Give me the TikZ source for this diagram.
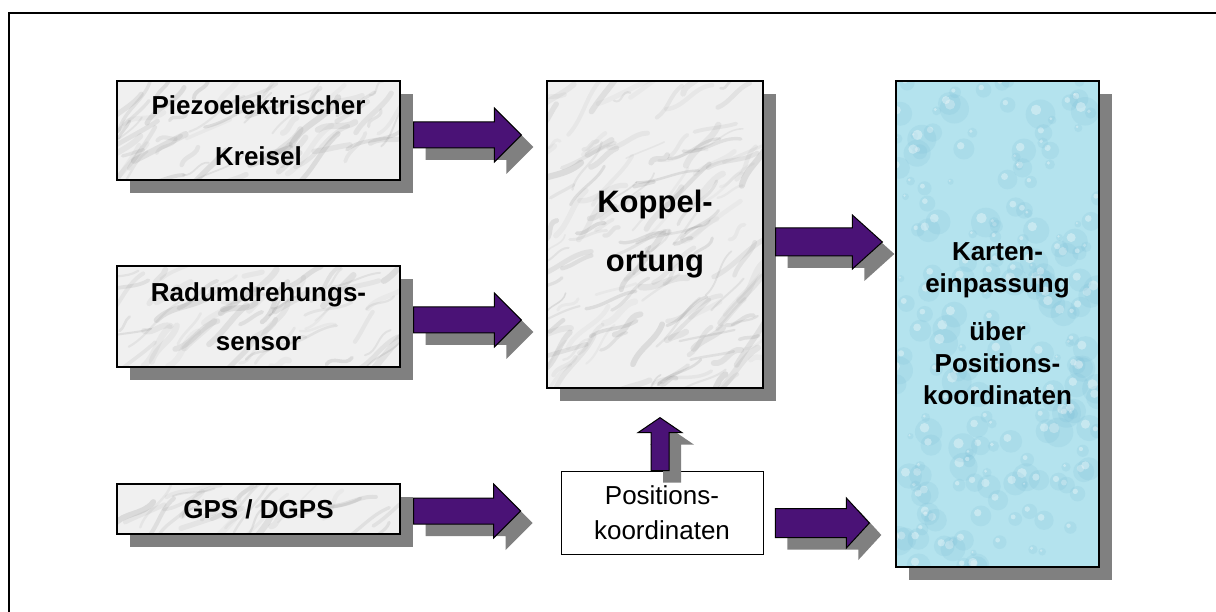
\documentclass[tikz,border=0pt]{standalone}
\usepackage{fontspec}
\setmainfont{Liberation Sans}
\usetikzlibrary{calc,shadows}
\definecolor{arrowpurple}{RGB}{74,18,118}
\definecolor{shadowgray}{RGB}{128,128,128}
\definecolor{marblebase}{RGB}{240,240,240}
\definecolor{veincolor}{RGB}{120,120,120}
\definecolor{waterbase}{RGB}{180,227,238}
\definecolor{waterdark}{RGB}{110,180,208}

\newcommand\marbleveins[1]{%
  \pgfmathsetseed{#1}%
  \pgfpointanchor{path picture bounding box}{south west}\pgfgetlastxy\xa\ya
  \pgfpointanchor{path picture bounding box}{north east}\pgfgetlastxy\xb\yb
  \pgfmathsetmacro\nv{int(((\xb-\xa)/30)*((\yb-\ya)/15))}%
  \foreach \i in {1,...,\nv}{%
    \pgfmathsetmacro\mcx{\xa+rnd*(\xb-\xa)}%
    \pgfmathsetmacro\mcy{\ya+rnd*(\yb-\ya)}%
    \pgfmathsetmacro\mang{10+rnd*50}%
    \pgfmathsetmacro\mlen{8+rnd*26}%
    \pgfmathsetmacro\mbend{-8+rnd*16}%
    \pgfmathsetmacro\mlw{1.5+rnd*5}%
    \pgfmathsetmacro\mop{0.05+rnd*0.13}%
    \pgfmathsetmacro\pax{\mcx-\mlen*cos(\mang)}%
    \pgfmathsetmacro\pay{\mcy-\mlen*sin(\mang)}%
    \pgfmathsetmacro\pbx{\mcx+\mlen*cos(\mang)}%
    \pgfmathsetmacro\pby{\mcy+\mlen*sin(\mang)}%
    \pgfmathsetmacro\qax{\mcx-\mlen/3*cos(\mang)-\mbend*sin(\mang)}%
    \pgfmathsetmacro\qay{\mcy-\mlen/3*sin(\mang)+\mbend*cos(\mang)}%
    \pgfmathsetmacro\qbx{\mcx+\mlen/3*cos(\mang)+\mbend*sin(\mang)}%
    \pgfmathsetmacro\qby{\mcy+\mlen/3*sin(\mang)-\mbend*cos(\mang)}%
    \draw[veincolor, opacity=\mop, line width=\mlw pt, line cap=round]
      (\pax pt,\pay pt) .. controls (\qax pt,\qay pt) and (\qbx pt,\qby pt) .. (\pbx pt,\pby pt);
  }%
}
\newcommand\waterdrops[1]{%
  \pgfmathsetseed{#1}%
  \pgfpointanchor{path picture bounding box}{south west}\pgfgetlastxy\xa\ya
  \pgfpointanchor{path picture bounding box}{north east}\pgfgetlastxy\xb\yb
  \foreach \i in {1,...,200}{%
    \pgfmathsetmacro\wcx{\xa+rnd*(\xb-\xa)}%
    \pgfmathsetmacro\wcy{\ya+rnd*(\yb-\ya)}%
    \pgfmathsetmacro\wr{3+rnd*12}%
    \fill[waterdark, opacity=0.14] (\wcx pt,\wcy pt) circle (\wr pt);
    \fill[white, opacity=0.35] (\wcx pt-0.3*\wr pt,\wcy pt+0.3*\wr pt) circle (0.35*\wr pt);
  }%
}

\newcommand\harrow[5]{% start, tip, body half, head half, head length
  \foreach \st/\sx/\sy in {arrowshadow/12/-12, arrowbody/0/0}{%
    \path[\st, transform canvas={shift={(\sx pt,\sy pt)}}]
      ($(#1)+(0,-#3)$) -- ($(#2)+(-#5,-#3)$) -- ($(#2)+(-#5,-#4)$) -- (#2)
      -- ($(#2)+(-#5,#4)$) -- ($(#2)+(-#5,#3)$) -- ($(#1)+(0,#3)$) -- cycle;
  }%
}
\newcommand\varrow[5]{% start (bottom), tip (top), body half, head half, head length
  \foreach \st/\sx/\sy in {arrowshadow/12/-12, arrowbody/0/0}{%
    \path[\st, transform canvas={shift={(\sx pt,\sy pt)}}]
      ($(#1)+(-#3,0)$) -- ($(#2)+(-#3,#5)$) -- ($(#2)+(-#4,#5)$) -- (#2)
      -- ($(#2)+(#4,#5)$) -- ($(#2)+(#3,#5)$) -- ($(#1)+(#3,0)$) -- cycle;
  }%
}

\tikzset{
  boxshadow/.style={drop shadow={shadow xshift=13pt, shadow yshift=-13pt, fill=shadowgray, opacity=1}},
  marblebox/.style={draw=black, line width=1.3pt, fill=marblebase, boxshadow,
    inner sep=0pt, align=center, path picture={\marbleveins{#1}}},
  waterbox/.style={draw=black, line width=1.3pt, fill=waterbase, boxshadow,
    inner sep=0pt, align=center, path picture={\waterdrops{#1}}},
  plainbox/.style={draw=black, line width=0.9pt, fill=white, inner sep=0pt, align=center},
  arrowbody/.style={fill=arrowpurple, draw=black, line width=1pt, line join=miter},
  arrowshadow/.style={fill=shadowgray},
  frameline/.style={draw=black, line width=2pt},
}

\begin{document}
\begin{tikzpicture}[x=1pt,y=-1pt]
\useasboundingbox (0,0) rectangle (1216,612);

% outer frame (only top and left edges visible)
\coordinate (fbl) at (9,612);
\coordinate (ftl) at (9,13);
\coordinate (ftr) at (1216,13);
\draw[frameline] (fbl) -- (ftl) -- (ftr);

% boxes
\node[marblebox=3, minimum width=283pt, minimum height=99pt,
      font=\bfseries\fontsize{26}{51}\selectfont] (piezo) at (258.5,130.5)
  {Piezoelektrischer\\Kreisel};
\node[marblebox=5, minimum width=283pt, minimum height=101pt,
      font=\bfseries\fontsize{26}{49}\selectfont] (radum) at (258.5,316.5)
  {Radumdrehungs-\\sensor};
\node[marblebox=9, minimum width=283pt, minimum height=50pt,
      font=\bfseries\fontsize{26}{32}\selectfont] (gps) at (258.5,509)
  {GPS / DGPS};
\node[marblebox=11, minimum width=216pt, minimum height=307pt,
      font=\bfseries\fontsize{31}{59}\selectfont] (kop) at (655,234.5)
  {Koppel-\\ortung};
\node[waterbox=13, minimum width=203pt, minimum height=486pt,
      font=\bfseries\fontsize{26}{32}\selectfont] (karten) at (997.5,324)
  {Karten-\\einpassung\\[16pt]über\\Positions-\\koordinaten};
\node[plainbox, minimum width=202pt, minimum height=83pt,
      font=\fontsize{26}{35}\selectfont] (pos) at (662,512.5)
  {Positions-\\koordinaten};

% block arrows
\coordinate (a1s) at ($(piezo.east)+(13,4.5)$);
\coordinate (a1e) at ($(a1s -| kop.west)+(-25,0)$);
\harrow{a1s}{a1e}{13}{27}{27}

\coordinate (a2s) at ($(radum.east)+(13,3.5)$);
\coordinate (a2e) at ($(a2s -| kop.west)+(-25,0)$);
\harrow{a2s}{a2e}{13}{27}{27}

\coordinate (a3s) at ($(gps.east)+(13,2)$);
\coordinate (a3e) at ($(a3s -| pos.west)+(-40,0)$);
\harrow{a3s}{a3e}{13}{27}{27}

\coordinate (a4s) at ($(kop.east)+(12,7.5)$);
\coordinate (a4e) at ($(a4s -| karten.west)+(-13,0)$);
\harrow{a4s}{a4e}{14}{27}{30}

\coordinate (a5s) at ($(pos.east)+(12,10.5)$);
\coordinate (a5e) at ($(a5s -| karten.west)+(-26,0)$);
\harrow{a5s}{a5e}{14.5}{25}{23}

\coordinate (a6s) at ($(pos.north)+(-2,0)$);
\coordinate (a6e) at ($(a6s |- kop.south)+(0,29)$);
\varrow{a6s}{a6e}{9}{22}{15}
\end{tikzpicture}
\end{document}
